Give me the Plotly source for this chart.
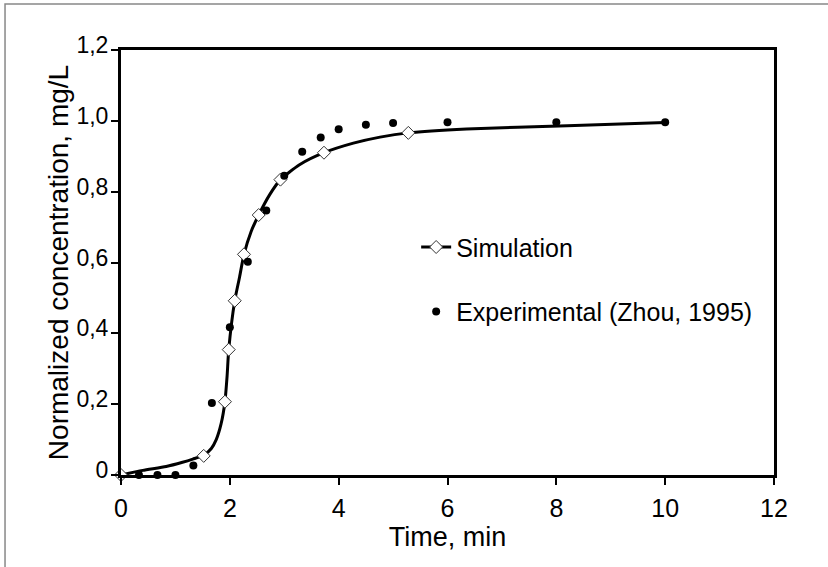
import plotly.graph_objects as go

# Simulation curve
sim_curve_t = [0, 0.4, 0.83, 1.13, 1.32, 1.52, 1.66, 1.75, 1.84, 1.91, 1.95, 1.98, 2.09, 2.18,
               2.26, 2.39, 2.53, 2.73, 2.93, 3.28, 3.73, 4.27, 4.76, 5.28, 6.35, 8.2, 10.0]
sim_curve_c = [0, 0.013, 0.024, 0.036, 0.045, 0.056, 0.075, 0.10, 0.145, 0.207, 0.28, 0.354, 0.492, 0.56,
               0.623, 0.687, 0.734, 0.791, 0.834, 0.876, 0.91, 0.937, 0.954, 0.966, 0.977, 0.986, 0.995]

# Simulation markers (diamonds)
sim_t = [0, 1.52, 1.91, 1.98, 2.09, 2.26, 2.53, 2.93, 3.73, 5.28]
sim_c = [0, 0.054, 0.207, 0.354, 0.492, 0.623, 0.734, 0.834, 0.91, 0.966]

# Experimental (Zhou, 1995)
exp_t = [0.33, 0.67, 1.0, 1.33, 1.67, 2.0, 2.33, 2.67, 3.0, 3.33, 3.67, 4.0, 4.5, 5.0, 6.0, 8.0, 10.0]
exp_c = [0, 0, 0, 0.027, 0.203, 0.417, 0.602, 0.747, 0.845, 0.913, 0.953, 0.976, 0.989, 0.994, 0.996, 0.996, 0.996]

x_ticks = [0, 2, 4, 6, 8, 10, 12]
y_ticks = [0, 0.2, 0.4, 0.6, 0.8, 1.0, 1.2]
y_tick_labels = ["0", "0,2", "0,4", "0,6", "0,8", "1,0", "1,2"]

FONT = "Liberation Sans, Arial, sans-serif"

fig = go.Figure()

fig.add_trace(go.Scatter(
    x=sim_curve_t, y=sim_curve_c, mode="lines",
    line=dict(color="black", width=3, shape="spline", smoothing=0.6),
    showlegend=False, hoverinfo="skip", cliponaxis=False,
))
fig.add_trace(go.Scatter(
    x=sim_t, y=sim_c, mode="markers",
    marker=dict(symbol="diamond", size=10, color="white", line=dict(color="#333333", width=1)),
    showlegend=False, cliponaxis=False,
))
fig.add_trace(go.Scatter(
    x=[None], y=[None], mode="lines+markers", name="Simulation",
    line=dict(color="black", width=3),
    marker=dict(symbol="diamond", size=10, color="white", line=dict(color="#333333", width=1)),
    legendgroup="a",
))
fig.add_trace(go.Scatter(
    x=exp_t, y=exp_c, mode="markers", name="Experimental (Zhou, 1995)",
    marker=dict(symbol="circle", size=8, color="black"),
    cliponaxis=False, legendgroup="b",
))

axis_common = dict(
    showline=True, linecolor="black", linewidth=3, mirror=True,
    ticks="outside", ticklen=7, tickwidth=1.5, tickcolor="black",
    showgrid=False, zeroline=False,
)

fig.update_xaxes(
    range=[0, 12], tickvals=x_ticks, ticktext=[str(v) for v in x_ticks],
    tickfont=dict(family=FONT, size=25, color="black"),
    ticklabelstandoff=2,
    title=dict(text="Time, min", font=dict(family=FONT, size=27, color="black"), standoff=5),
    **axis_common,
)
fig.update_yaxes(
    range=[0, 1.2], tickvals=y_ticks, ticktext=y_tick_labels,
    tickfont=dict(family=FONT, size=23, color="black"),
    ticklabelshift=-5, ticklabelstandoff=-2,
    title=dict(text="Normalized concentration, mg/L", font=dict(family=FONT, size=28, color="black"), standoff=0),
    **axis_common,
)

fig.add_shape(
    type="rect", xref="paper", yref="paper",
    x0=-0.1776, x1=1.09, y0=-0.23, y1=1.108,
    line=dict(color="#888888", width=1.5), fillcolor="rgba(0,0,0,0)", layer="below",
)

fig.update_layout(
    width=828, height=567,
    margin=dict(l=121, r=54, t=50, b=92),
    paper_bgcolor="white", plot_bgcolor="white",
    font=dict(family=FONT, color="black"),
    legend=dict(
        x=0.452, y=0.59, xanchor="left", yanchor="top",
        font=dict(family=FONT, size=25, color="black"),
        bgcolor="rgba(0,0,0,0)", traceorder="grouped", tracegroupgap=29,
        itemwidth=30,
    ),
)

fig.write_html("out.html", config={"displayModeBar": False},
               post_script="document.body.style.margin='0';")
